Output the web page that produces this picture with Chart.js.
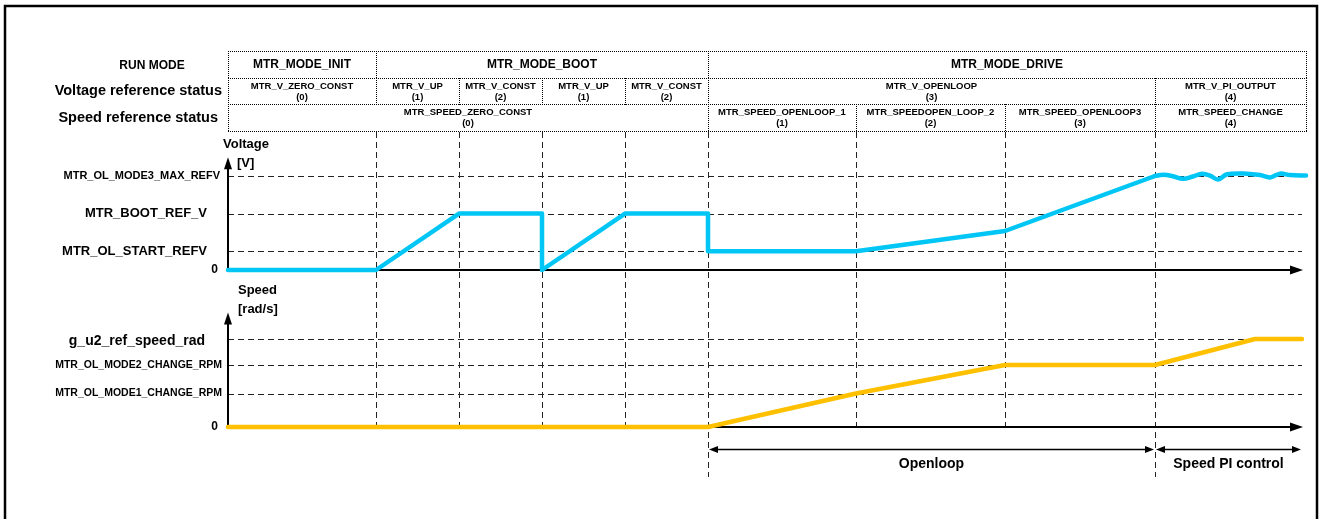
<!DOCTYPE html>
<html>
<head>
<meta charset="utf-8">
<script src="https://cdn.jsdelivr.net/npm/chart.js@4/dist/chart.umd.min.js"></script>
<style>
  html, body { margin: 0; padding: 0; background: #fff; }
  canvas { display: block; }
</style>
</head>
<body>
<canvas id="timing" width="1322" height="519"></canvas>
<script>
// ---- Sequence data (time in ms from power-on) ----
const endTime = 1078;

// RUN MODE row
const runModeLabels = ['MTR_MODE_INIT', 'MTR_MODE_BOOT', 'MTR_MODE_DRIVE'];
const runModeBounds = [0, 148, 480, 1078];

// Voltage reference status row
const voltageStatusLabels = ['MTR_V_ZERO_CONST', 'MTR_V_UP', 'MTR_V_CONST', 'MTR_V_UP', 'MTR_V_CONST', 'MTR_V_OPENLOOP', 'MTR_V_PI_OUTPUT'];
const voltageStatusCodes = ['(0)', '(1)', '(2)', '(1)', '(2)', '(3)', '(4)'];
const voltageStatusBounds = [0, 148, 231, 314, 397, 480, 927, 1078];

// Speed reference status row
const speedStatusLabels = ['MTR_SPEED_ZERO_CONST', 'MTR_SPEED_OPENLOOP_1', 'MTR_SPEEDOPEN_LOOP_2', 'MTR_SPEED_OPENLOOP3', 'MTR_SPEED_CHANGE'];
const speedStatusCodes = ['(0)', '(1)', '(2)', '(3)', '(4)'];
const speedStatusBounds = [0, 480, 628, 777, 927, 1078];

// State change instants marked with dashed verticals
const eventTimes = [148, 231, 314, 397, 480, 628, 777, 927];

// Voltage reference levels [V]
const voltageLevelNames = ['0', 'MTR_OL_START_REFV', 'MTR_BOOT_REF_V', 'MTR_OL_MODE3_MAX_REFV'];
const voltageLevels = [0, 2, 6, 10];

// Speed reference levels [rad/s]
const speedLevelNames = ['0', 'MTR_OL_MODE1_CHANGE_RPM', 'MTR_OL_MODE2_CHANGE_RPM', 'g_u2_ref_speed_rad'];
const speedLevels = [0, 380, 705, 1000];

// Voltage reference: init, boot and open-loop phases
const voltageRampTimes = [0, 148, 231, 314, 314, 397, 480, 480, 628, 777, 927];
const voltageRampValues = [0, 0, 6, 6, 0, 6, 6, 2, 2, 4.15, 10];

// Voltage reference: PI controller output
const voltagePiTimes = [927, 935, 944, 955, 965, 974, 982, 990, 999, 1019, 1032, 1042, 1052, 1062, 1078];
const voltagePiValues = [10, 10.12, 10, 9.7, 9.95, 10.25, 10.05, 9.62, 10.18, 10.25, 10.1, 9.85, 10.25, 10.1, 10.05];

// Speed reference
const speedTimes = [0, 480, 628, 777, 927, 1027, 1074];
const speedValues = [0, 0, 380, 705, 705, 1000, 1000];

// Control regions shown under the time axis
const regionLabels = ['Openloop', 'Speed PI control'];
const regionBounds = [480, 927, 1074];

// ---- Layout ----
const PLOT_TOP = 131, PLOT_BOTTOM = 477;
const CANVAS_H = 519;
// value range that puts `zeroPx` at value 0 with `pxPerUnit` scaling
function rangeFor(zeroPx, pxPerUnit) {
  return { min: -(PLOT_BOTTOM - zeroPx) / pxPerUnit, max: (zeroPx - PLOT_TOP) / pxPerUnit };
}
const vRange = rangeFor(270, 9.4);
const sRange = rangeFor(427, 0.088);

const FONT = "'Liberation Sans', Arial, sans-serif";
const CYAN = '#00C6F6';
const AMBER = '#FFC000';

function pts(xs, ys) { return xs.map((t, i) => ({ x: t, y: ys[i] })); }

function text(ctx, str, x, y, size, align, maxW) {
  ctx.font = 'bold ' + size + 'px ' + FONT;
  ctx.textAlign = align;
  ctx.textBaseline = 'middle';
  ctx.fillStyle = '#000';
  if (maxW) ctx.fillText(str, x, y, maxW); else ctx.fillText(str, x, y);
}

function arrowHead(ctx, tipX, tipY, dir, len, half) {
  ctx.beginPath();
  if (dir === 'up') {
    ctx.moveTo(tipX, tipY); ctx.lineTo(tipX - half, tipY + len); ctx.lineTo(tipX + half, tipY + len);
  } else if (dir === 'right') {
    ctx.moveTo(tipX, tipY); ctx.lineTo(tipX - len, tipY - half); ctx.lineTo(tipX - len, tipY + half);
  } else {
    ctx.moveTo(tipX, tipY); ctx.lineTo(tipX + len, tipY - half); ctx.lineTo(tipX + len, tipY + half);
  }
  ctx.closePath();
  ctx.fill();
}

const diagramPlugin = {
  id: 'timingDiagram',
  beforeDatasetsDraw(chart) {
    const { ctx, scales } = chart;
    const x = scales.x, yV = scales.yV, yS = scales.yS;
    const px = t => x.getPixelForValue(t);
    const x0 = px(0), xR = px(endTime);
    ctx.save();

    // outer frame
    ctx.strokeStyle = '#000';
    ctx.lineWidth = 2.5;
    ctx.setLineDash([]);
    ctx.beginPath();
    ctx.moveTo(5, CANVAS_H + 10); ctx.lineTo(5, 6); ctx.lineTo(1317, 6); ctx.lineTo(1317, CANVAS_H + 10);
    ctx.stroke();

    // status table
    const rows = [51, 78, 104, 131];
    ctx.lineWidth = 1;
    ctx.setLineDash([1, 1]);
    ctx.beginPath();
    rows.forEach(r => { ctx.moveTo(x0, r + 0.5); ctx.lineTo(xR + 1, r + 0.5); });
    const dividers = (bounds, top, bottom) => bounds.forEach(b => {
      const xx = Math.round(px(b)) + 0.5;
      ctx.moveTo(xx, top); ctx.lineTo(xx, bottom + 1);
    });
    dividers(runModeBounds, rows[0], rows[1]);
    dividers(voltageStatusBounds, rows[1], rows[2]);
    dividers(speedStatusBounds, rows[2], rows[3]);
    ctx.stroke();

    runModeLabels.forEach((l, i) => {
      const c = (px(runModeBounds[i]) + px(runModeBounds[i + 1])) / 2;
      text(ctx, l, c, 65, 12, 'center');
    });
    voltageStatusLabels.forEach((l, i) => {
      const c = (px(voltageStatusBounds[i]) + px(voltageStatusBounds[i + 1])) / 2;
      text(ctx, l, c, 86, 9.5, 'center');
      text(ctx, voltageStatusCodes[i], c, 97, 9.5, 'center');
    });
    speedStatusLabels.forEach((l, i) => {
      const c = (px(speedStatusBounds[i]) + px(speedStatusBounds[i + 1])) / 2;
      text(ctx, l, c, 112, 9.5, 'center');
      text(ctx, speedStatusCodes[i], c, 123, 9.5, 'center');
    });

    // row headings
    text(ctx, 'RUN MODE', 152, 66, 12, 'center');
    text(ctx, 'Voltage reference status', 222, 91, 14.5, 'right', 172);
    text(ctx, 'Speed reference status', 218, 118, 14.5, 'right', 160);

    // dashed level lines
    const xGridEnd = px(1074);
    ctx.strokeStyle = '#222';
    ctx.setLineDash([6, 4]);
    ctx.beginPath();
    voltageLevels.slice(1).forEach(v => {
      const yy = Math.round(yV.getPixelForValue(v)) + 0.5;
      ctx.moveTo(x0, yy); ctx.lineTo(xGridEnd, yy);
    });
    speedLevels.slice(1).forEach(v => {
      const yy = Math.round(yS.getPixelForValue(v)) + 0.5;
      ctx.moveTo(x0, yy); ctx.lineTo(xGridEnd, yy);
    });
    // dashed event verticals; region boundaries run down to the region arrows
    const ySpeed0 = yS.getPixelForValue(0);
    eventTimes.forEach(t => {
      const xx = Math.round(px(t)) + 0.5;
      const long = regionBounds.includes(t);
      ctx.moveTo(xx, PLOT_TOP + 1);
      ctx.lineTo(xx, long ? PLOT_BOTTOM : ySpeed0);
    });
    ctx.stroke();

    // axes with arrowheads
    ctx.setLineDash([]);
    ctx.strokeStyle = '#000';
    ctx.fillStyle = '#000';
    ctx.lineWidth = 2;
    const axisTip = px(1075);
    const drawAxes = (scale, topValue) => {
      const yz = scale.getPixelForValue(0);
      const yt = scale.getPixelForValue(topValue);
      ctx.beginPath();
      ctx.moveTo(x0, yz); ctx.lineTo(x0, yt + 10);
      ctx.moveTo(x0, yz); ctx.lineTo(axisTip - 12, yz);
      ctx.stroke();
      arrowHead(ctx, x0, yt, 'up', 12, 4);
      arrowHead(ctx, axisTip, yz, 'right', 13, 4.5);
    };
    drawAxes(yV, 12);
    drawAxes(yS, 1300);

    // axis titles
    text(ctx, 'Voltage', 223, 144, 13, 'left');
    text(ctx, '[V]', 237, 163, 13, 'left');
    text(ctx, 'Speed', 238, 290, 13, 'left');
    text(ctx, '[rad/s]', 238, 309, 13, 'left');

    // level labels
    const vStyle = [[12, 218, 0], [13, 207, 158], [13, 207, 131], [11, 220, 168]];
    voltageLevelNames.forEach((n, i) => {
      const s = vStyle[i];
      text(ctx, n, s[1], yV.getPixelForValue(voltageLevels[i]), s[0], 'right', s[2] || undefined);
    });
    const sStyle = [[12, 218, 0], [10.5, 222, 174], [10.5, 222, 174], [14, 205, 143]];
    speedLevelNames.forEach((n, i) => {
      const s = sStyle[i];
      text(ctx, n, s[1], yS.getPixelForValue(speedLevels[i]) + (i === 3 ? 2 : 0), s[0], 'right', s[2] || undefined);
    });

    // control region arrows
    ctx.lineWidth = 1.5;
    const yArrow = 449.5;
    regionLabels.forEach((l, i) => {
      const a = px(regionBounds[i]) + 1, b = px(regionBounds[i + 1]) - 1;
      ctx.beginPath();
      ctx.moveTo(a + 6, yArrow); ctx.lineTo(b - 6, yArrow);
      ctx.stroke();
      arrowHead(ctx, a, yArrow, 'left', 9, 3.5);
      arrowHead(ctx, b, yArrow, 'right', 9, 3.5);
      text(ctx, l, (a + b) / 2, 464, 14, 'center');
    });

    ctx.restore();
  }
};

new Chart(document.getElementById('timing'), {
  type: 'line',
  data: {
    datasets: [
      {
        label: 'Voltage reference',
        data: pts(voltageRampTimes, voltageRampValues),
        yAxisID: 'yV',
        borderColor: CYAN,
        borderWidth: 4.5,
        tension: 0
      },
      {
        label: 'Voltage reference (PI)',
        data: pts(voltagePiTimes, voltagePiValues),
        yAxisID: 'yV',
        borderColor: CYAN,
        borderWidth: 4.5,
        tension: 0.35
      },
      {
        label: 'Speed reference',
        data: pts(speedTimes, speedValues),
        yAxisID: 'yS',
        borderColor: AMBER,
        borderWidth: 4.5,
        tension: 0
      }
    ]
  },
  options: {
    responsive: false,
    animation: false,
    events: [],
    layout: { padding: { left: 228, right: 16, top: PLOT_TOP, bottom: CANVAS_H - PLOT_BOTTOM } },
    elements: {
      point: { radius: 0, hoverRadius: 0 },
      line: { borderCapStyle: 'round', borderJoinStyle: 'round', fill: false }
    },
    datasets: { line: { clip: false } },
    scales: {
      x: { type: 'linear', min: 0, max: endTime, display: false },
      yV: { type: 'linear', min: vRange.min, max: vRange.max, display: false },
      yS: { type: 'linear', min: sRange.min, max: sRange.max, display: false }
    },
    plugins: { legend: { display: false }, tooltip: { enabled: false }, title: { display: false } }
  },
  plugins: [diagramPlugin]
});
</script>
</body>
</html>
